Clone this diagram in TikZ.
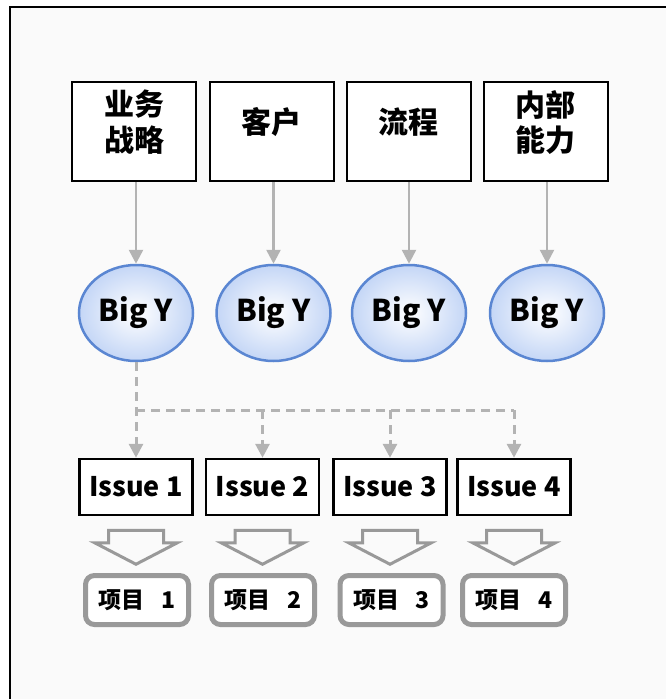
\documentclass[tikz,border=0pt]{standalone}
\usepackage{fontspec}
\setmainfont{Noto Sans CJK SC}
\usetikzlibrary{arrows.meta,calc,shapes.geometric}
\definecolor{bgc}{HTML}{FAFAFA}
\definecolor{linegray}{HTML}{B3B3B3}
\definecolor{boxgray}{HTML}{999999}
\definecolor{ellblue}{HTML}{5A86D2}
\definecolor{ellfill}{HTML}{C4D6F6}
\newcommand{\uptext}[1]{\raisebox{6pt}[\height][\depth]{\begin{tabular}{@{}c@{}}#1\end{tabular}}}
\begin{document}
\begin{tikzpicture}[x=1pt,y=-1pt,
  topbox/.style={draw=black,line width=2pt,fill=white,minimum width=124pt,minimum height=99pt,inner sep=0pt,align=center,
    font=\fontsize{30}{32}\selectfont\bfseries},
  bigy/.style={ellipse,draw=ellblue,line width=2.5pt,inner color=white,outer color=ellfill,minimum width=114pt,minimum height=96pt,inner sep=0pt,
    font=\fontsize{30}{32}\selectfont\bfseries},
  issue/.style={draw=black,line width=2.5pt,fill=white,minimum width=113pt,minimum height=56pt,inner sep=0pt,
    font=\fontsize{27}{30}\selectfont\bfseries},
  proj/.style={draw=boxgray,line width=5pt,fill=white,rounded corners=9pt,minimum width=103pt,minimum height=49pt,inner sep=0pt,
    font=\fontsize{23}{26}\selectfont\bfseries},
  solidarrow/.style={draw=linegray,line width=2.5pt,-{Triangle[width=14pt,length=14pt]}},
  dasharrow/.style={draw=linegray,line width=3pt,dash pattern=on 9pt off 6pt,-{Triangle[width=14pt,length=14pt]}},
  dashline/.style={draw=linegray,line width=3pt,dash pattern=on 9pt off 6pt},
  blockarrow/.style={draw=boxgray,line width=3pt,fill=bgc,line join=miter}
]
\useasboundingbox (0,0) rectangle (666,699);
\fill[white] (0,0) rectangle (666,699);
\fill[bgc] (10,7) rectangle (700,730);
\draw[line width=2pt] (10,730) -- (10,7) -- (700,7);

\node[topbox] (b1) at (134,131.5) {\uptext{业务\\战略}};
\node[topbox] (b2) at (271.5,131.5) {\uptext{客户}};
\node[topbox] (b3) at (408.7,131.5) {\uptext{流程}};
\node[topbox] (b4) at (545.7,131.5) {\uptext{内部\\能力}};

\node[bigy] (e1) at (136,313) {Big Y};
\node[bigy] (e2) at (273.5,313) {Big Y};
\node[bigy] (e3) at (409,313) {Big Y};
\node[bigy] (e4) at (547,313) {Big Y};

\foreach \i in {1,2,3,4}{
  \draw[solidarrow] (b\i.south -| e\i.north) -- (e\i.north);
}

\node[issue] (i1) at (136,487) {Issue 1};
\node[issue] (i2) at (262.5,487) {Issue 2};
\node[issue] (i3) at (390,487) {Issue 3};
\node[issue] (i4) at (514,487) {Issue 4};

\coordinate (bus) at (136,410);
\draw[dasharrow] (e1.south) -- (i1.north);
\draw[dashline] (bus) -- (bus -| i4.north);
\foreach \i in {2,3,4}{
  \draw[dasharrow] (bus -| i\i.north) -- (i\i.north);
}

\node[proj] (p1) at (137,600) {项目\hspace{0.7em}1};
\node[proj] (p2) at (263,600) {项目\hspace{0.7em}2};
\node[proj] (p3) at (391.5,600) {项目\hspace{0.7em}3};
\node[proj] (p4) at (514,600) {项目\hspace{0.7em}4};

\foreach \i in {1,2,3,4}{
  \draw[blockarrow] ($(i\i.south)+(-27.5,14)$) -- ($(i\i.south)+(27.5,14)$) -- ($(i\i.south)+(27.5,26.7)$)
     -- ($(i\i.south)+(41,26.7)$) -- ($(i\i.south)+(0,48)$) -- ($(i\i.south)+(-41,26.7)$) -- ($(i\i.south)+(-27.5,26.7)$) -- cycle;
}
\end{tikzpicture}
\end{document}
